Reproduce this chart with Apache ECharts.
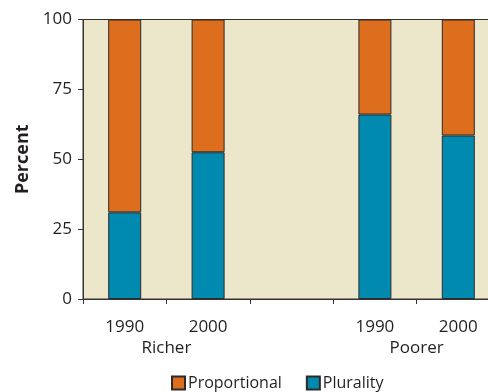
<!DOCTYPE html>
<html><head><meta charset="utf-8">
<script src="https://cdn.jsdelivr.net/npm/echarts@6/dist/echarts.min.js"></script>
<style>html,body{margin:0;padding:0;background:#fff}#c{width:488px;height:392px}</style>
</head><body><div id="c"></div>
<script>
const years = ['1990', '2000', '', '1990', '2000'];
const groupLabels = ['', '', 'Richer', '', '', '', '', '', 'Poorer', '', ''];
const plurality = [31, 52.5, null, 66, 58.5];
const proportional = [69, 47.5, null, 34, 41.5];
const yTicks = [0, 25, 50, 75, 100];

const txt = '#231F20';
const font = 'Open Sans';
const chart = echarts.init(document.getElementById('c'));
chart.setOption({
  animation: false,
  textStyle: { fontFamily: font, color: txt },
  grid: { left: 83, top: 19.5, width: 417, height: 279.5, outerBoundsMode: 'none', containLabel: false,
    show: true, backgroundColor: '#ECE7CA', borderColor: '#333', borderWidth: 1 },
  legend: {
    top: 370, left: 166, icon: 'rect', itemWidth: 13, itemHeight: 13, itemGap: 24,
    textStyle: { fontFamily: font, fontSize: 16, color: txt, padding: [0, 0, 0, -2] },
    data: ['Proportional', 'Plurality']
  },
  xAxis: [{
    type: 'category', data: years,
    axisLine: { lineStyle: { color: '#333', width: 1 } },
    axisTick: { show: true, length: 5, lineStyle: { color: '#333' } },
    axisLabel: { fontSize: 17, color: txt, margin: 20, fontFamily: font }
  }, {
    type: 'category', data: groupLabels, boundaryGap: false, position: 'bottom',
    axisLine: { show: false }, axisTick: { show: false },
    axisLabel: { interval: 0, fontSize: 17, color: txt, margin: 41, fontFamily: font }
  }],
  yAxis: {
    type: 'value', min: 0, max: 100, interval: 25,
    name: 'Percent', nameLocation: 'middle', nameGap: 44,
    nameTextStyle: { fontSize: 18, fontWeight: 'bold', color: txt, fontFamily: font },
    axisLine: { show: true, lineStyle: { color: '#333' } },
    axisTick: { show: true, length: 5, lineStyle: { color: '#333' } },
    splitLine: { show: false },
    axisLabel: { fontSize: 17, color: txt, margin: 11, fontFamily: font,
      formatter: v => yTicks.includes(v) ? String(v) : '' }
  },
  series: [{
    name: 'Plurality', type: 'bar', stack: 's', barWidth: 33, data: plurality,
    itemStyle: { color: '#018AB0', borderColor: '#2b2b2b', borderWidth: 1 }
  }, {
    name: 'Proportional', type: 'bar', stack: 's', barWidth: 33, data: proportional,
    itemStyle: { color: '#DD6E1E', borderColor: '#2b2b2b', borderWidth: 1 }
  }]
});
</script></body></html>
